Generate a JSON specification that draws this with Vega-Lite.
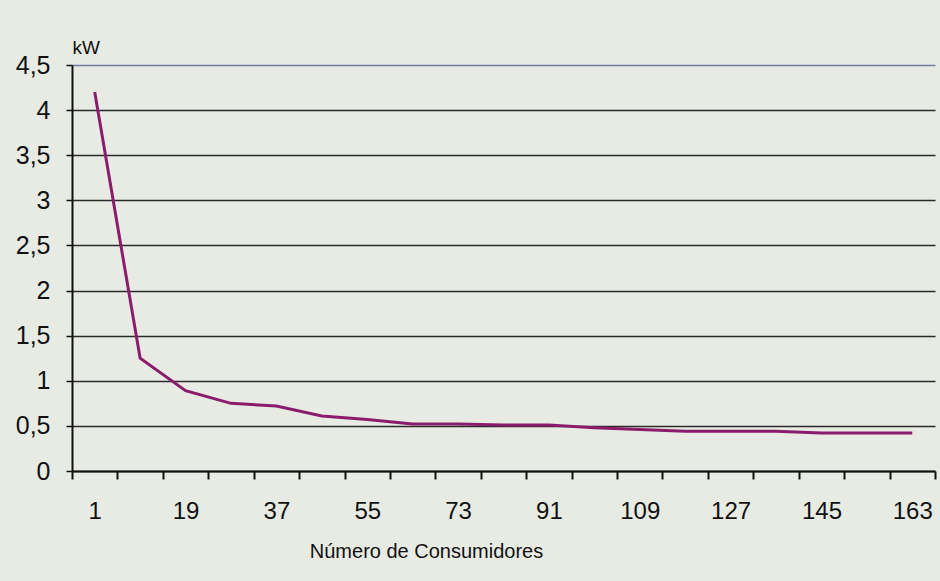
{
  "$schema": "https://vega.github.io/schema/vega-lite/v6.json",
  "width": 863,
  "height": 406,
  "autosize": {"type": "none"},
  "padding": {"left": 72, "top": 65, "right": 5, "bottom": 110},
  "background": "#e7ebe4",
  "config": {"view": {"stroke": null}, "font": "Liberation Sans"},
  "data": {
    "values": [
      {"consumidores": 1, "kw": 4.2},
      {"consumidores": 10, "kw": 1.25},
      {"consumidores": 19, "kw": 0.89},
      {"consumidores": 28, "kw": 0.75},
      {"consumidores": 37, "kw": 0.72},
      {"consumidores": 46, "kw": 0.61},
      {"consumidores": 55, "kw": 0.57},
      {"consumidores": 64, "kw": 0.52},
      {"consumidores": 73, "kw": 0.52},
      {"consumidores": 82, "kw": 0.51},
      {"consumidores": 91, "kw": 0.51},
      {"consumidores": 100, "kw": 0.48},
      {"consumidores": 109, "kw": 0.46},
      {"consumidores": 118, "kw": 0.44},
      {"consumidores": 127, "kw": 0.44},
      {"consumidores": 136, "kw": 0.44},
      {"consumidores": 145, "kw": 0.42},
      {"consumidores": 154, "kw": 0.42},
      {"consumidores": 163, "kw": 0.42}
    ]
  },
  "mark": {"type": "line", "color": "#8b1c6c", "strokeWidth": 3},
  "encoding": {
    "x": {
      "field": "consumidores",
      "type": "ordinal",
      "bandPosition": 0.5,
      "scale": {"type": "band", "paddingInner": 0, "paddingOuter": 0},
      "axis": {
        "title": "Número de Consumidores",
        "labelAngle": 0,
        "tickBand": "extent",
        "labelExpr": "(datum.value - 1) % 18 == 0 ? datum.label : ''",
        "domainColor": "#111111",
        "domainWidth": 2,
        "tickColor": "#111111",
        "tickWidth": 2,
        "tickSize": 8,
        "labelFontSize": 24,
        "labelPadding": 20,
        "labelColor": "#111111",
        "titleFontSize": 20,
        "titleFontWeight": "normal",
        "titleColor": "#111111",
        "titleX": 354,
        "titleY": 86,
        "titleAlign": "center",
        "titleBaseline": "alphabetic",
        "grid": false
      }
    },
    "y": {
      "field": "kw",
      "type": "quantitative",
      "scale": {"domain": [0, 4.5], "nice": false},
      "axis": {
        "title": "kW",
        "titleAngle": 0,
        "titleX": 0,
        "titleY": -12,
        "titleAlign": "left",
        "titleBaseline": "alphabetic",
        "titleFontSize": 19,
        "titleFontWeight": "normal",
        "titleColor": "#111111",
        "values": [0, 0.5, 1, 1.5, 2, 2.5, 3, 3.5, 4, 4.5],
        "labelExpr": "replace(format(datum.value, '.1~f'), '.', ',')",
        "labelFontSize": 25,
        "labelColor": "#111111",
        "labelPadding": 16,
        "tickSize": 6,
        "tickColor": "#111111",
        "tickWidth": 1.5,
        "domainColor": "#111111",
        "domainWidth": 2,
        "grid": true,
        "gridColor": {"condition": {"test": "datum.value == 4.5", "value": "#7478a8"}, "value": "#2a2a2a"},
        "gridWidth": 1.5
      }
    }
  }
}
